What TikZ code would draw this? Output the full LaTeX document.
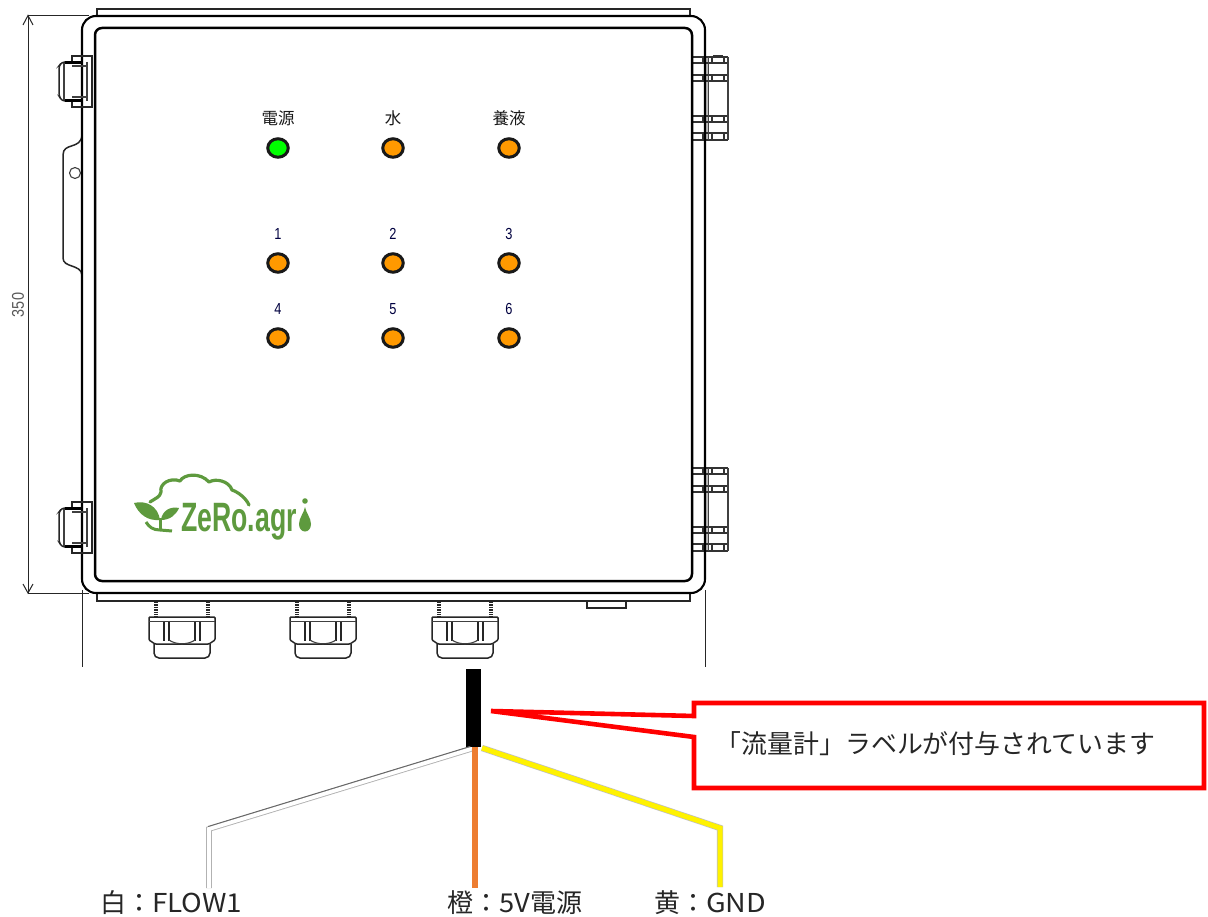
\documentclass[tikz,border=0pt]{standalone}
\usepackage{fontspec}
\setmainfont{Liberation Sans}
\newfontfamily\jp{Noto Sans CJK JP}
\usetikzlibrary{arrows.meta,shapes.geometric}
\definecolor{logogreen}{HTML}{5E9A3E}
\definecolor{ledorange}{HTML}{FF9900}
\definecolor{wireorange}{HTML}{ED7D31}
\tikzset{
  ledlamp/.style={draw=black!90,line width=3pt,ellipse,minimum width=20.5pt,minimum height=18.5pt,inner sep=0pt,fill=ledorange},
  ledtext/.style={font=\jp\fontsize{16.5}{18}\selectfont,text=black!90,inner sep=0pt},
  numtext/.style={font=\fontsize{16}{18}\selectfont,text=black!75!blue,inner sep=0pt,xscale=.8},
  wirelabel/.style={font=\jp\fontsize{26}{30}\selectfont,text=black!85,inner sep=0pt,anchor=west},
  heavy/.style={line width=2.1pt,black},
  med/.style={line width=1.5pt,black!85},
  thin1/.style={line width=1.1pt,black!75},
  hingeline/.style={line width=1.5pt,black!80},
  dimline/.style={line width=1pt,black!85},
}
\newcommand{\latchpart}[1]{%
  \begin{scope}[yshift=-#1pt]
    \draw[med] (82,0) -- (92,0) -- (92,51) -- (82,51);
    \draw[med] (82,0) -- (72,0) -- (72,6);
    \draw[med] (82,51) -- (72,51) -- (72,45);
    \draw[med,rounded corners=3pt] (72,6) -- (62,6) -- (59,10) -- (59,40) -- (62,45) -- (72,45);
    \draw[thin1] (64,7) -- (64,44);
    \draw[line width=2.6pt,black] (65,6.5) -- (83,6.5);
    \draw[line width=2.6pt,black] (65,44.5) -- (83,44.5);
    \draw[thin1] (87,6) -- (87,45);
    \draw[thin1] (72,10) -- (87,10);
    \draw[thin1] (72,41) -- (87,41);
  \end{scope}}
\newcommand{\hingepart}[1]{%
  \begin{scope}[yshift=-#1pt]
    \fill[black!25] (706,0) rectangle (708.5,83);
    \foreach \a/\b in {0/6,18/24,59/65,76/83}{
      \draw[hingeline] (693,\a) -- (728,\a);
      \draw[hingeline] (693,\b) -- (728,\b);
      \draw[hingeline] (703,\a) -- (703,\b);
      \draw[hingeline] (712,\a) -- (712,\b);
      \draw[hingeline] (724,\a) -- (724,\b);
    }
    \draw[line width=1.4pt,black!75] (708.5,0) -- (708.5,83);
    \draw[line width=1.3pt,black!75] (728,0) -- (728,83);
  \end{scope}}
\newcommand{\glandpart}[1]{%
  \begin{scope}[xshift=#1pt]
    \foreach \s in {-26,26}{
      \draw[line width=3.6pt,black!85,dash pattern=on 1.4pt off 1pt] (\s,602) -- (\s,617);
    }
    \draw[med,rounded corners=1pt] (-33,640) -- (-33,617) -- (33,617) -- (33,640) -- (27,644) -- (-27,644) -- cycle;
    \draw[thin1] (-33,621.5) -- (33,621.5);
    \foreach \s in {-18,-13,13,18}{ \draw[med] (\s,621.5) -- (\s,641); }
    \draw[thin1] (-13,640) .. controls (-6,645) and (6,645) .. (13,640);
    \draw[med,rounded corners=5pt] (-28,644) -- (-28,658) -- (28,658) -- (28,644);
  \end{scope}}
\begin{document}
\begin{tikzpicture}[x=1pt,y=-1pt]
\useasboundingbox (0,0) rectangle (1208,917);
\fill[white] (0,0) rectangle (1208,917);

% dimension
\draw[dimline] (28,15.5) -- (89,15.5);
\draw[dimline] (28,593) -- (89,593);
\draw[dimline] (82,590) -- (82,667);
\draw[dimline] (705,590) -- (705,667);
\draw[dimline] (28,15.5) -- (28,593);
\draw[dimline] (23,25) -- (28,15.5) -- (33,25);
\draw[dimline] (23,584) -- (28,593) -- (33,584);
\node[rotate=90,font=\fontsize{17}{19}\selectfont,text=black!65,inner sep=0pt,xscale=.85] (dimtext) at (18,305) {350};

% hinges (behind)
\hingepart{57}
\hingepart{468}
\draw[line width=1.5pt,black!80] (713,55.5) -- (723,55.5);

% side tab
\draw[med] (82,135) .. controls (81,150) and (63,142) .. (63,155) -- (63,258) .. controls (63,268) and (81,264) .. (82,275);
\node[draw=black!75,line width=1.1pt,circle,minimum size=11pt,inner sep=0pt,fill=white] (tabhole) at (75,173) {};

% enclosure
\draw[med] (97,16) -- (97,9) -- (690,9) -- (690,16);
\draw[med] (97,593) -- (97,601) -- (690,601) -- (690,593);
\draw[heavy,rounded corners=14pt] (82,16) rectangle (705,593);
\draw[heavy,line width=2.5pt,rounded corners=7pt] (95,28) rectangle (692,581);
\latchpart{56}
\latchpart{502}
\draw[med] (587,601) -- (587,608) -- (626,608) -- (626,601);

% glands
\glandpart{182}
\glandpart{323}
\glandpart{465}

% LEDs
\node[ledlamp,fill=green] (lp) at (278,148) {};
\node[ledlamp] (lw) at (393,148) {};
\node[ledlamp] (ln) at (509,148) {};
\node[ledlamp] (l1) at (278,263) {};
\node[ledlamp] (l2) at (393,263) {};
\node[ledlamp] (l3) at (509,263) {};
\node[ledlamp] (l4) at (278,338) {};
\node[ledlamp] (l5) at (393,338) {};
\node[ledlamp] (l6) at (509,338) {};
\node[ledtext] (tp) at (278,118) {電源};
\node[ledtext] (tw) at (393,118) {水};
\node[ledtext] (tn) at (509,118) {養液};
\node[numtext] (t1) at (278,233.5) {1};
\node[numtext] (t2) at (393,233.5) {2};
\node[numtext] (t3) at (509,233.5) {3};
\node[numtext] (t4) at (278,309) {4};
\node[numtext] (t5) at (393,309) {5};
\node[numtext] (t6) at (509,309) {6};

% logo
\draw[logogreen,line width=3.2pt,line cap=round,line join=round]
  (150,502) .. controls (156,498) and (160,497) .. (161,492)
  .. controls (159,484) and (170,477) .. (180,481)
  .. controls (184,474) and (200,472) .. (209,482)
  .. controls (216,478) and (229,481) .. (232,490)
  .. controls (238,492) and (246,498) .. (249,505);
\fill[logogreen] (134,503) .. controls (146,500) and (158,506) .. (160,520)
  .. controls (148,521) and (139,515) .. (134,503) -- cycle;
\fill[logogreen] (179,508) .. controls (170,506) and (162,511) .. (161,520)
  .. controls (170,520) and (176,515) .. (179,508) -- cycle;
\draw[logogreen,line width=3pt] (160,518) -- (160,530);
\draw[logogreen,line width=3pt] (146,522) .. controls (149,527) and (153,530) .. (160,530) -- (172,531);
\node[anchor=base west,inner sep=0pt,text=logogreen,font=\bfseries\fontsize{41}{43}\selectfont] (logotext) at (181,531) {\scalebox{0.65}[1]{ZeRo.agr}};
\fill[logogreen] (305,501) circle (2.8pt);
\fill[logogreen] (305,507) .. controls (306,513) and (311,518) .. (311,524)
  .. controls (311,534) and (299,534) .. (299,524)
  .. controls (299,518) and (304,513) .. (305,507) -- cycle;

% cable
\node[fill=black,minimum width=15pt,minimum height=78pt,inner sep=0pt] (cable) at (473.5,708) {};
\coordinate (wa) at (471,749);
\coordinate (wb) at (209,829);
\coordinate (wc) at (209,888);
\coordinate (ya) at (482,748);
\coordinate (yb) at (720,828);
\coordinate (yc) at (720,887);
\draw[black!30,line width=5.6pt,miter limit=10] (wa) -- (wb) -- (wc);
\draw[white,line width=3.8pt,miter limit=10] (wa) -- (wb) -- (wc);
\draw[black!60,line width=.9pt] (470,746.5) -- (208,826.5);
\draw[black!25,line width=6.4pt,miter limit=10] (ya) -- (yb) -- (yc);
\draw[yellow,line width=5pt,miter limit=10] (ya) -- (yb) -- (yc);
\draw[wireorange,line width=6pt] (cable.south) ++(1.5,0) -- (475,888);

% callout
\draw[red,line width=4.6pt,fill=white,miter limit=3] (694,703) -- (1204,703) -- (1204,788) -- (694,788) -- (694,737) -- (491,711) -- (694,716) -- cycle;
\node[font=\jp\fontsize{25.9}{30}\selectfont,text=black!85,inner sep=0pt,anchor=west] (calltext) at (715.5,744) {「流量計」ラベルが付与されています};

% wire labels
\node[wirelabel] (lwhite) at (100,903) {白：\scalebox{1.07}[1]{FLOW1}};
\node[wirelabel] (lorange) at (447,903) {橙：\scalebox{1.05}[1]{5V}電源};
\node[wirelabel] (lyellow) at (654,903) {黄：\scalebox{1.1}[1]{GND}};
\end{tikzpicture}
\end{document}
